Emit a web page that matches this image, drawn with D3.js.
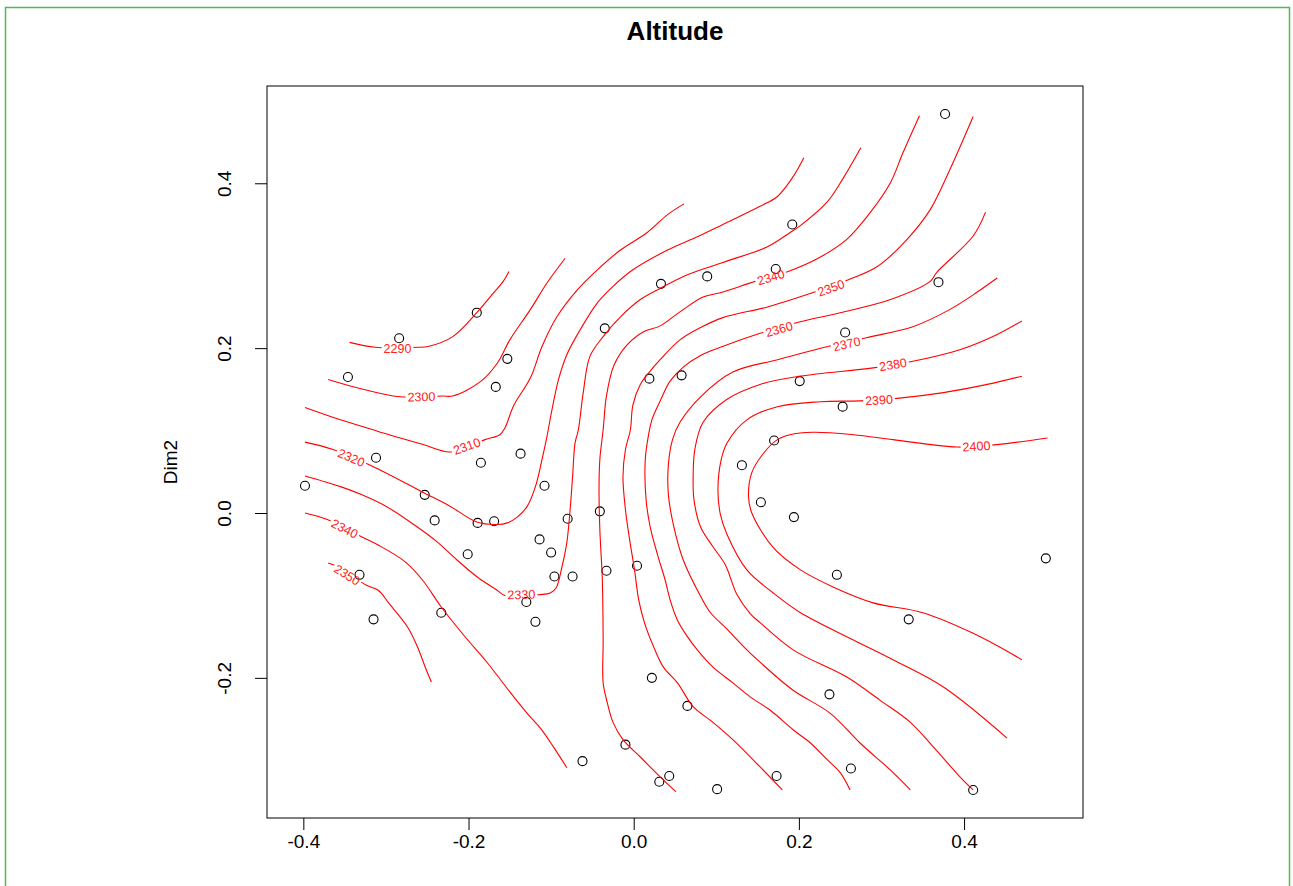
<!DOCTYPE html>
<html><head><meta charset="utf-8">
<script src="https://cdn.jsdelivr.net/npm/d3@7"></script>
<style>body{margin:0;background:#fff;}</style>
</head><body>
<svg id="chart" width="1293" height="886"></svg>
<script>
// ---------- data ----------
const chartTitle = "Altitude";
const yTitle = "Dim2";
const xTicks = [-0.4, -0.2, 0.0, 0.2, 0.4];
const yTicks = [-0.2, 0.0, 0.2, 0.4];

const siteX = [0.377,0.192,0.172,0.089,0.033,0.369,-0.035,0.256,-0.190,-0.284,-0.346,-0.153,-0.167,0.019,0.058,0.201,0.253,0.170,-0.312,-0.185,-0.137,-0.398,-0.108,-0.253,-0.041,-0.241,-0.189,-0.169,-0.080,-0.114,-0.100,-0.201,-0.332,-0.096,-0.074,-0.033,0.004,-0.130,-0.233,-0.315,-0.119,0.022,-0.010,-0.062,0.031,0.043,0.131,0.154,0.194,0.246,0.499,0.333,0.065,0.237,0.101,0.173,0.263,0.411];
const siteY = [0.484,0.350,0.296,0.287,0.278,0.280,0.224,0.219,0.243,0.212,0.165,0.187,0.153,0.163,0.167,0.160,0.129,0.088,0.067,0.061,0.072,0.033,0.033,0.022,0.002,-0.009,-0.012,-0.010,-0.007,-0.032,-0.048,-0.050,-0.075,-0.077,-0.077,-0.070,-0.064,-0.108,-0.121,-0.129,-0.132,-0.200,-0.281,-0.301,-0.326,-0.319,0.058,0.013,-0.005,-0.075,-0.055,-0.129,-0.234,-0.220,-0.335,-0.319,-0.310,-0.336];

// contour lines, [Dim1, Dim2] vertices
const line2290 = [[-0.344,0.207],[-0.313,0.201],[-0.261,0.201],[-0.249,0.202],[-0.219,0.214],[-0.190,0.243],[-0.174,0.262],[-0.158,0.281],[-0.151,0.293]];
const line2300 = [[-0.370,0.162],[-0.335,0.152],[-0.283,0.141],[-0.232,0.142],[-0.219,0.142],[-0.186,0.159],[-0.165,0.182],[-0.150,0.210],[-0.125,0.247],[-0.105,0.279],[-0.083,0.309]];
const line2310 = [[-0.398,0.128],[-0.355,0.113],[-0.303,0.097],[-0.255,0.083],[-0.222,0.074],[-0.180,0.089],[-0.162,0.095],[-0.156,0.103],[-0.145,0.131],[-0.125,0.164],[-0.111,0.202],[-0.093,0.238],[-0.068,0.271],[-0.044,0.295],[-0.016,0.319],[0.016,0.340],[0.041,0.362],[0.061,0.375]];
const line2320 = [[-0.398,0.086],[-0.364,0.077],[-0.317,0.057],[-0.255,0.025],[-0.222,0.008],[-0.190,-0.011],[-0.165,-0.014],[-0.153,-0.012],[-0.141,-0.005],[-0.129,0.008],[-0.119,0.032],[-0.111,0.065],[-0.105,0.093],[-0.099,0.125],[-0.091,0.162],[-0.081,0.192],[-0.065,0.222],[-0.044,0.255],[-0.025,0.275],[-0.001,0.295],[0.041,0.319],[0.077,0.335],[0.108,0.350],[0.153,0.372],[0.174,0.384],[0.193,0.408],[0.206,0.431]];
const line2330 = [[-0.398,0.045],[-0.355,0.032],[-0.329,0.022],[-0.298,0.007],[-0.262,-0.017],[-0.238,-0.035],[-0.214,-0.057],[-0.189,-0.078],[-0.165,-0.094],[-0.156,-0.100],[-0.113,-0.099],[-0.101,-0.097],[-0.094,-0.091],[-0.087,-0.066],[-0.081,-0.036],[-0.077,0.004],[-0.074,0.044],[-0.071,0.085],[-0.067,0.101],[-0.061,0.147],[-0.053,0.190],[-0.037,0.214],[-0.016,0.238],[0.008,0.259],[0.033,0.273],[0.065,0.289],[0.108,0.304],[0.162,0.323],[0.189,0.340],[0.201,0.348],[0.234,0.377],[0.253,0.405],[0.275,0.443]];
const line2340a = [[-0.398,0.000],[-0.371,-0.008],[-0.327,-0.030],[-0.309,-0.039],[-0.277,-0.059],[-0.256,-0.081],[-0.233,-0.114],[-0.206,-0.148],[-0.177,-0.182],[-0.150,-0.217],[-0.129,-0.243],[-0.113,-0.261],[-0.097,-0.284],[-0.081,-0.309]];
const line2340b = [[0.051,-0.338],[0.032,-0.320],[0.008,-0.296],[-0.013,-0.275],[-0.025,-0.254],[-0.032,-0.230],[-0.037,-0.206],[-0.037,-0.154],[-0.038,-0.081],[-0.041,-0.020],[-0.042,0.028],[-0.041,0.065],[-0.037,0.101],[-0.033,0.142],[-0.024,0.179],[-0.008,0.204],[0.012,0.220],[0.032,0.227],[0.056,0.244],[0.084,0.262],[0.108,0.268],[0.147,0.281],[0.187,0.293],[0.225,0.310],[0.258,0.332],[0.286,0.364],[0.311,0.401],[0.326,0.437],[0.346,0.482]];
const line2350a = [[-0.370,-0.061],[-0.363,-0.063],[-0.323,-0.088],[-0.309,-0.094],[-0.296,-0.110],[-0.274,-0.138],[-0.262,-0.162],[-0.252,-0.188],[-0.245,-0.205]];
const line2350b = [[0.180,-0.336],[0.153,-0.308],[0.120,-0.275],[0.096,-0.254],[0.072,-0.235],[0.053,-0.206],[0.036,-0.187],[0.024,-0.162],[0.013,-0.133],[0.006,-0.105],[0.001,-0.069],[-0.005,-0.032],[-0.010,0.004],[-0.013,0.044],[-0.010,0.077],[-0.004,0.101],[-0.001,0.131],[0.008,0.156],[0.019,0.171],[0.032,0.186],[0.056,0.210],[0.081,0.225],[0.108,0.237],[0.162,0.250],[0.210,0.265],[0.260,0.283],[0.295,0.299],[0.331,0.332],[0.359,0.368],[0.383,0.417],[0.411,0.481]];
const line2360 = [[0.262,-0.336],[0.250,-0.315],[0.234,-0.299],[0.214,-0.279],[0.193,-0.263],[0.165,-0.239],[0.141,-0.223],[0.120,-0.206],[0.096,-0.187],[0.077,-0.166],[0.065,-0.150],[0.053,-0.130],[0.044,-0.105],[0.038,-0.081],[0.029,-0.051],[0.020,-0.017],[0.015,0.016],[0.014,0.065],[0.018,0.095],[0.022,0.113],[0.033,0.138],[0.044,0.160],[0.060,0.177],[0.081,0.191],[0.105,0.201],[0.153,0.218],[0.198,0.231],[0.250,0.243],[0.311,0.259],[0.359,0.281],[0.367,0.292],[0.411,0.336],[0.426,0.365]];
const line2370 = [[0.335,-0.336],[0.311,-0.312],[0.274,-0.279],[0.238,-0.243],[0.193,-0.215],[0.153,-0.181],[0.133,-0.162],[0.113,-0.141],[0.093,-0.121],[0.081,-0.101],[0.060,-0.057],[0.048,-0.014],[0.042,0.022],[0.042,0.059],[0.047,0.089],[0.056,0.110],[0.081,0.141],[0.120,0.171],[0.174,0.186],[0.235,0.202],[0.283,0.213],[0.338,0.226],[0.383,0.247],[0.416,0.268],[0.440,0.285]];
const line2380 = [[0.411,-0.336],[0.395,-0.320],[0.363,-0.284],[0.335,-0.254],[0.298,-0.227],[0.258,-0.199],[0.193,-0.166],[0.153,-0.133],[0.141,-0.122],[0.125,-0.099],[0.111,-0.063],[0.096,-0.041],[0.081,-0.017],[0.073,0.016],[0.072,0.046],[0.074,0.077],[0.084,0.110],[0.113,0.138],[0.153,0.156],[0.202,0.166],[0.290,0.176],[0.338,0.184],[0.395,0.198],[0.435,0.214],[0.470,0.233]];
const line2390 = [[0.452,-0.273],[0.375,-0.211],[0.314,-0.178],[0.266,-0.154],[0.202,-0.121],[0.169,-0.097],[0.137,-0.069],[0.113,-0.026],[0.105,-0.002],[0.102,0.028],[0.106,0.065],[0.113,0.085],[0.137,0.113],[0.174,0.129],[0.226,0.135],[0.274,0.136],[0.319,0.139],[0.375,0.146],[0.428,0.156],[0.470,0.166]];
const line2400 = [[0.470,-0.178],[0.411,-0.146],[0.350,-0.121],[0.290,-0.109],[0.242,-0.090],[0.202,-0.069],[0.169,-0.042],[0.143,0.000],[0.139,0.020],[0.143,0.049],[0.156,0.071],[0.174,0.089],[0.189,0.095],[0.217,0.098],[0.266,0.095],[0.314,0.089],[0.392,0.080],[0.440,0.083],[0.501,0.091]];

const contourLevel = [2290,2300,2310,2320,2330,2340,2340,2350,2350,2360,2370,2380,2390,2400];
const contourLine  = [line2290,line2300,line2310,line2320,line2330,line2340a,line2340b,line2350a,line2350b,line2360,line2370,line2380,line2390,line2400];

// contour labels: level and position along its line
const labelLevel = [2290,2300,2310,2320,2330,2340,2350,2340,2350,2360,2370,2380,2390,2400];
const labelX = [-0.286,-0.257,-0.202,-0.342,-0.136,-0.350,-0.347,0.166,0.239,0.176,0.258,0.314,0.297,0.415];
const labelY = [0.199,0.141,0.081,0.067,-0.099,-0.019,-0.075,0.286,0.273,0.223,0.205,0.180,0.137,0.081];

// ---------- drawing ----------
const W = 1293, H = 886;
const FONT = "'Liberation Sans', Arial, Helvetica, sans-serif";
const svg = d3.select("#chart");

const x = d3.scaleLinear().domain([-0.444, 0.544]).range([267, 1083]);
const y = d3.scaleLinear().domain([-0.370, 0.518]).range([818, 86]);

// outer frame
svg.append("rect").attr("x", 5.5).attr("y", 7.5).attr("width", W - 9).attr("height", H + 10)
  .attr("fill", "none").attr("stroke", "#4cbb4c").attr("stroke-width", 1.5);

// title
svg.append("text").attr("x", (x.range()[0] + x.range()[1]) / 2).attr("y", 40)
  .attr("text-anchor", "middle").attr("font-family", FONT).attr("font-weight", "bold")
  .attr("font-size", 26).text(chartTitle);

// axes
const gx = svg.append("g").attr("transform", `translate(0,${y.range()[0]})`)
  .call(d3.axisBottom(x).tickValues(xTicks).tickSize(12).tickPadding(5).tickFormat(d => d.toFixed(1)));
gx.select(".domain").remove();
gx.selectAll("line").attr("stroke", "#000");
gx.selectAll("text").attr("font-family", FONT).attr("font-size", 19).attr("fill", "#000");

const gy = svg.append("g").attr("transform", `translate(${x.range()[0]},0)`)
  .call(d3.axisLeft(y).tickValues(yTicks).tickSize(12).tickFormat(d => d.toFixed(1)));
gy.select(".domain").remove();
gy.selectAll("line").attr("stroke", "#000");
gy.selectAll("text").attr("font-family", FONT).attr("font-size", 19).attr("fill", "#000")
  .attr("text-anchor", "middle").attr("x", 0).attr("y", -36).attr("dy", 0)
  .attr("transform", "rotate(-90)");

// y title
svg.append("text").attr("transform", `translate(177,462) rotate(-90)`)
  .attr("text-anchor", "middle").attr("font-family", FONT).attr("font-size", 19).text(yTitle);

// mask for the label gaps
const defs = svg.append("defs");
const mask = defs.append("mask").attr("id", "gaps").attr("maskUnits", "userSpaceOnUse")
  .attr("x", 0).attr("y", 0).attr("width", W).attr("height", H);
mask.append("rect").attr("width", W).attr("height", H).attr("fill", "#fff");

// points
svg.append("g").selectAll("circle").data(siteX.map((v, i) => [v, siteY[i]])).join("circle")
  .attr("cx", d => x(d[0])).attr("cy", d => y(d[1])).attr("r", 4.5)
  .attr("fill", "none").attr("stroke", "#000").attr("stroke-width", 1.1);

// contour lines
const lineGen = d3.line().x(d => x(d[0])).y(d => y(d[1])).curve(d3.curveCatmullRom.alpha(0.5));
svg.append("g").attr("mask", "url(#gaps)").selectAll("path")
  .data(contourLine).join("path")
  .attr("d", lineGen).attr("fill", "none").attr("stroke", "#ff0000").attr("stroke-width", 1.1);

// contour labels oriented along the nearest segment
const gl = svg.append("g");
labelLevel.forEach((lev, i) => {
  const px = x(labelX[i]), py = y(labelY[i]);
  let best = Infinity, ang = 0;
  contourLine.forEach((ln, k) => {
    if (contourLevel[k] !== lev) return;
    for (let j = 0; j < ln.length - 1; j++) {
      const ax = x(ln[j][0]), ay = y(ln[j][1]), bx = x(ln[j + 1][0]), by = y(ln[j + 1][1]);
      const dx = bx - ax, dy = by - ay, L = dx * dx + dy * dy;
      let t = L ? ((px - ax) * dx + (py - ay) * dy) / L : 0;
      t = Math.max(0, Math.min(1, t));
      const qx = ax + t * dx - px, qy = ay + t * dy - py, dd = qx * qx + qy * qy;
      if (dd < best) { best = dd; ang = Math.atan2(dy, dx) * 180 / Math.PI; }
    }
  });
  if (ang > 90) ang -= 180;
  if (ang < -90) ang += 180;
  const tf = `translate(${px},${py}) rotate(${ang})`;
  const t = gl.append("text").attr("transform", tf).attr("text-anchor", "middle").attr("dy", "0.35em")
    .attr("font-family", FONT).attr("font-size", 12.5).attr("fill", "#ff2020").text(lev);
  const w = t.node().getComputedTextLength();
  mask.append("rect").attr("transform", tf).attr("x", -w / 2 - 2).attr("y", -6).attr("width", w + 4).attr("height", 12).attr("fill", "#000");
});

// plot box
svg.append("rect").attr("x", x.range()[0]).attr("y", y.range()[1])
  .attr("width", x.range()[1] - x.range()[0]).attr("height", y.range()[0] - y.range()[1])
  .attr("fill", "none").attr("stroke", "#000").attr("stroke-width", 1);
</script>
</body></html>
